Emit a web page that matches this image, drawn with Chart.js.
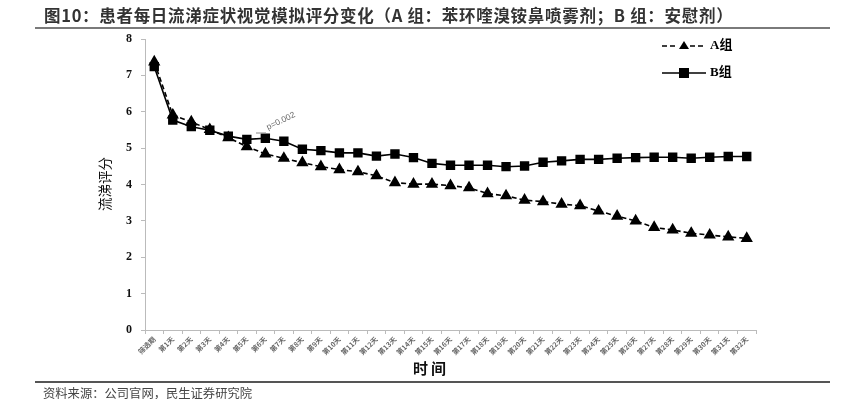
<!DOCTYPE html>
<html>
<head>
<meta charset="utf-8">
<script src="https://cdn.jsdelivr.net/npm/chart.js@4/dist/chart.umd.min.js"></script>
<style>
  html, body { margin: 0; padding: 0; background: #fff; }
  #wrap { position: relative; width: 844px; height: 399px; overflow: hidden; font-family: "Noto Sans CJK SC", sans-serif; }
  #chart { position: absolute; left: 0; top: 0; }
  .title { position: absolute; left: 44px; top: 5px; font-size: 16.5px; line-height: 20px; font-weight: bold; color: #333; white-space: nowrap; letter-spacing: 0.7px; }
  .rule-top { position: absolute; left: 35px; top: 27px; width: 795px; height: 2px; background: #7a7a7a; }
  .rule-bot { position: absolute; left: 35px; top: 381px; width: 795px; height: 2px; background: #555; }
  .source { position: absolute; left: 43px; top: 386px; font-size: 12.3px; line-height: 14px; color: #444; white-space: nowrap; }
  .ytitle { position: absolute; left: 104px; top: 184px; font-size: 13.5px; line-height: 14px; color: #111; white-space: nowrap; transform: translate(-50%, -50%) rotate(-90deg); }
  .xtitle { position: absolute; left: 413px; top: 357px; font-size: 15px; font-weight: bold; color: #111; letter-spacing: 3px; }
</style>
</head>
<body>
<div id="wrap">
  <canvas id="chart" width="844" height="399"></canvas>
  <div class="title">图10：患者每日流涕症状视觉模拟评分变化（A 组：苯环喹溴铵鼻喷雾剂；B 组：安慰剂）</div>
  <div class="rule-top"></div>
  <div class="ytitle">流涕评分</div>
  <div class="xtitle">时间</div>
  <div class="rule-bot"></div>
  <div class="source">资料来源：公司官网，民生证券研究院</div>
</div>
<script>
// categories: screening period + day 1..32
const days = ['筛选期', '第1天', '第2天', '第3天', '第4天', '第5天', '第6天', '第7天', '第8天', '第9天', '第10天',
  '第11天', '第12天', '第13天', '第14天', '第15天', '第16天', '第17天', '第18天', '第19天', '第20天',
  '第21天', '第22天', '第23天', '第24天', '第25天', '第26天', '第27天', '第28天', '第29天', '第30天',
  '第31天', '第32天'];

const groupA = [7.37, 5.91, 5.72, 5.51, 5.29, 5.04, 4.84, 4.72, 4.60, 4.49, 4.41, 4.35, 4.24, 4.05, 4.01, 4.01,
  3.97, 3.91, 3.75, 3.69, 3.57, 3.53, 3.46, 3.42, 3.27, 3.13, 3.00, 2.82, 2.75, 2.66, 2.61, 2.56, 2.52];

const groupB = [7.24, 5.77, 5.59, 5.49, 5.33, 5.24, 5.27, 5.19, 4.97, 4.93, 4.87, 4.87, 4.78, 4.84, 4.74, 4.58,
  4.53, 4.53, 4.53, 4.49, 4.51, 4.61, 4.65, 4.69, 4.69, 4.72, 4.74, 4.75, 4.75, 4.72, 4.75, 4.77, 4.77];

const yTicks = [0, 1, 2, 3, 4, 5, 6, 7, 8];

// legend + p-value note drawn on the canvas
const extras = {
  id: 'extras',
  afterDraw(chart) {
    const ctx = chart.ctx;
    ctx.save();
    ctx.strokeStyle = '#000';
    ctx.fillStyle = '#000';
    ctx.lineWidth = 1.6;

    // A row
    ctx.setLineDash([5, 3]);
    ctx.beginPath(); ctx.moveTo(662, 46); ctx.lineTo(678, 46); ctx.stroke();
    ctx.beginPath(); ctx.moveTo(690, 46); ctx.lineTo(706, 46); ctx.stroke();
    ctx.setLineDash([]);
    ctx.beginPath(); ctx.moveTo(684, 41); ctx.lineTo(689, 49); ctx.lineTo(679, 49); ctx.closePath(); ctx.fill();

    // B row
    ctx.beginPath(); ctx.moveTo(662, 73); ctx.lineTo(706, 73); ctx.stroke();
    ctx.fillRect(679, 68, 10, 10);

    ctx.font = 'bold 13px "Liberation Serif", "Noto Sans CJK SC"';
    ctx.textBaseline = 'middle';
    ctx.fillText('A组', 710, 46);
    ctx.fillText('B组', 710, 73);

    // p value note
    ctx.strokeStyle = '#888';
    ctx.lineWidth = 1;
    ctx.beginPath(); ctx.moveTo(256, 133); ctx.lineTo(266, 133); ctx.stroke();
    ctx.translate(268, 130);
    ctx.rotate(-0.45);
    ctx.fillStyle = '#666';
    ctx.font = '8.5px "Liberation Sans"';
    ctx.textBaseline = 'alphabetic';
    ctx.fillText('p=0.002', 0, 0);
    ctx.restore();
  }
};

new Chart(document.getElementById('chart'), {
  type: 'line',
  data: {
    labels: days,
    datasets: [
      {
        label: 'A组',
        data: groupA,
        borderColor: '#000',
        backgroundColor: '#000',
        borderWidth: 1.6,
        borderDash: [5, 3],
        pointStyle: 'triangle',
        pointRadius: 5.5,
        tension: 0
      },
      {
        label: 'B组',
        data: groupB,
        borderColor: '#000',
        backgroundColor: '#000',
        borderWidth: 1.6,
        pointStyle: 'rect',
        pointRadius: 5.5,
        tension: 0
      }
    ]
  },
  options: {
    responsive: false,
    animation: false,
    layout: { padding: { left: 0, top: 39, right: 88, bottom: 0 } },
    plugins: {
      legend: { display: false },
      tooltip: { enabled: false }
    },
    scales: {
      x: {
        offset: true,
        grid: { display: true, drawOnChartArea: false, offset: true, color: '#bbb', tickLength: 4 },
        border: { color: '#bbb', width: 1 },
        ticks: {
          autoSkip: false,
          maxRotation: 45,
          minRotation: 45,
          padding: 1,
          color: '#666',
          font: { size: 7, weight: 'bold', family: '"Noto Sans CJK SC"' }
        },
        afterFit(scale) { scale.height = 69; }
      },
      y: {
        min: 0,
        max: 8,
        afterBuildTicks(scale) { scale.ticks = yTicks.map(v => ({ value: v })); },
        grid: { display: true, drawOnChartArea: false, color: '#bbb', tickLength: 4 },
        border: { color: '#bbb', width: 1 },
        ticks: {
          padding: 9,
          color: '#111',
          font: { size: 12, weight: 'bold', family: '"Liberation Serif"' }
        },
        afterFit(scale) { scale.width = 145; }
      }
    }
  },
  plugins: [extras]
});
</script>
</body>
</html>
